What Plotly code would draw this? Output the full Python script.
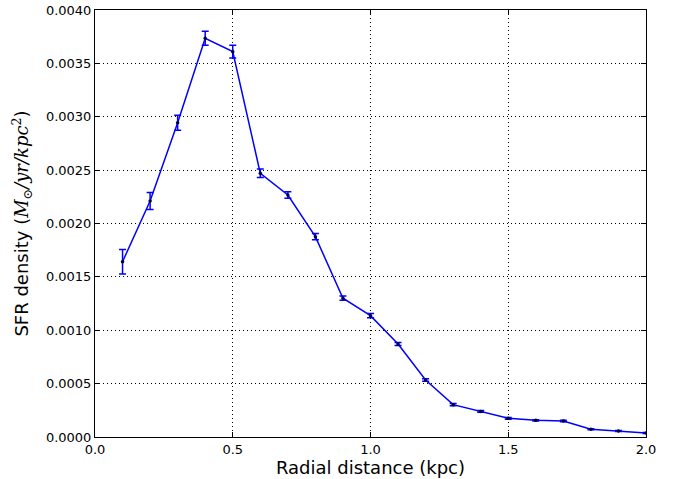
import plotly.graph_objects as go

radius = [0.1, 0.2, 0.3, 0.4, 0.5, 0.6, 0.7, 0.8, 0.9, 1.0,
          1.1, 1.2, 1.3, 1.4, 1.5, 1.6, 1.7, 1.8, 1.9, 2.0]
sfr = [0.001642, 0.00221, 0.002944, 0.003735, 0.00361, 0.00247, 0.002267, 0.001877,
       0.00130, 0.001137, 0.000871, 0.000534, 0.000303, 0.00024, 0.000175, 0.000156,
       0.00015, 0.000072, 0.000056, 0.000037]
err = [0.000115, 0.00008, 0.00007, 0.000065, 0.00006, 0.00004, 0.00003, 0.00003,
       0.00002, 0.00002, 0.000015, 0.000012, 0.00001, 0.000008, 0.000008, 0.000006,
       0.000006, 0.000005, 0.000004, 0.000004]

fig = go.Figure()
fig.add_trace(go.Scatter(
    x=radius, y=sfr, mode="lines+markers",
    line=dict(color="#0000ff", width=1.5),
    marker=dict(color="#000033", size=3.5),
    error_y=dict(type="data", array=err, visible=True, color="#0000ff",
                 thickness=1.5, width=3.5),
    showlegend=False,
))

axis_common = dict(
    showline=True, linecolor="black", linewidth=1, mirror="allticks",
    ticks="inside", ticklen=5, tickcolor="black",
    showgrid=True, gridcolor="black", griddash="1px,3px", gridwidth=1,
    zeroline=False, automargin=False,
    tickfont=dict(family="DejaVu Sans", size=13, color="black"),
)

fig.update_xaxes(range=[0, 2.0], dtick=0.5, tickformat=".1f",
                 title=dict(text="Radial distance (kpc)",
                            font=dict(family="DejaVu Sans", size=18, color="black"),
                            standoff=5),
                 **axis_common)
math = ('<span style="font-family:DejaVu Serif"><i>M</i><sub>⊙</sub>'
        '<i>/yr/kpc</i><sup>2</sup></span>')
fig.update_yaxes(range=[0, 0.004], dtick=0.0005, tickformat=".4f",
                 title=dict(text="SFR density (" + math + ")",
                            font=dict(family="DejaVu Sans", size=18, color="black"),
                            standoff=12),
                 **axis_common)

fig.update_layout(
    width=673, height=479,
    margin=dict(l=95, r=27, t=10, b=42),
    paper_bgcolor="white", plot_bgcolor="white",
)

fig.write_html("out.html")
